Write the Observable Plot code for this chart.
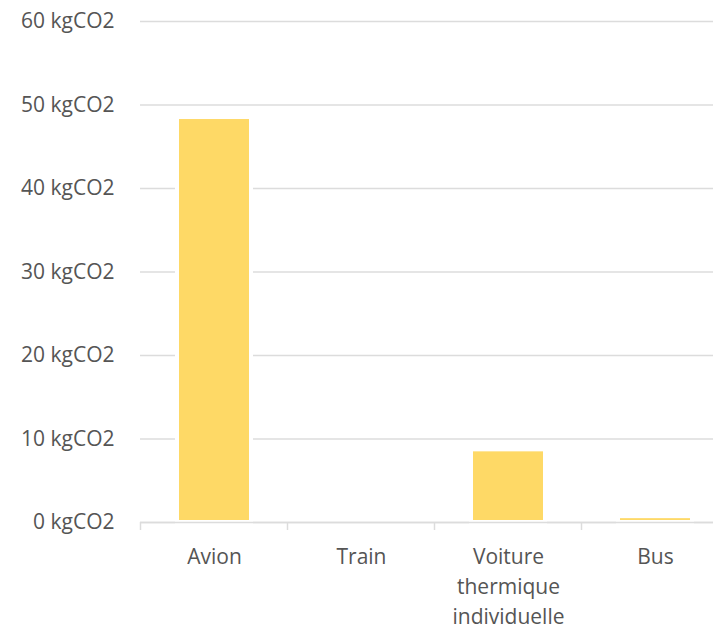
<!DOCTYPE html>
<html>
<head>
<meta charset="utf-8">
<script src="https://cdn.jsdelivr.net/npm/d3@7"></script>
<script src="https://cdn.jsdelivr.net/npm/@observablehq/plot@0.6"></script>
<style>
  html, body { margin: 0; padding: 0; background: #fff; overflow: hidden; }
  #wrap { width: 713px; height: 628px; overflow: hidden; }
  #wrap svg { max-width: none !important; }
</style>
</head>
<body>
<div id="wrap"></div>
<script>
// Data
const categories = ["Avion", "Train", "Voiture", "Bus"];
const categoryLabels = ["Avion", "Train", "Voiture\nthermique\nindividuelle", "Bus"];
const emissions = [48.5, 0, 8.7, 0.7];
const yTicks = [0, 10, 20, 30, 40, 50, 60];

const data = categories.map((c, i) => ({category: c, value: emissions[i]}));
const labelMap = new Map(categories.map((c, i) => [c, categoryLabels[i]]));

const gridColor = "#dcdcdc";
const textColor = "#555555";

// Boundary ticks between the category bands (drawn through the x scale)
function bandBoundaryTicks(index, scales) {
  const x = scales.x;
  const y0 = scales.y(0);
  const bw = x.bandwidth();
  const step = x(categories[1]) - x(categories[0]);
  const g = d3.create("svg:g").attr("stroke", gridColor).attr("stroke-width", 1.5);
  categories.forEach(c => {
    const px = x(c) - (step - bw) / 2;
    g.append("line").attr("x1", px).attr("x2", px).attr("y1", y0).attr("y2", y0 + 8);
  });
  return g.node();
}

const chart = Plot.plot({
  width: 728,
  height: 628,
  marginLeft: 140,
  marginRight: 0,
  marginTop: 21,
  marginBottom: 106,
  style: {fontFamily: "'Open Sans', sans-serif", fontSize: "21px", color: textColor, background: "#fff", maxWidth: "none"},
  x: {domain: categories, paddingInner: 0.5, paddingOuter: 0.25, axis: null},
  y: {domain: [0, 60], axis: null},
  marks: [
    Plot.gridY(yTicks, {stroke: gridColor, strokeOpacity: 1, strokeWidth: 1.5}),
    Plot.axisY(yTicks, {
      tickSize: 0, tickPadding: 26, fontSize: 21, fill: textColor,
      tickFormat: d => `${d} kgCO2`, label: null
    }),
    Plot.barY(data, {x: "category", y: "value", fill: "#FED966", stroke: "#ffffff", strokeWidth: 4}),
    Plot.ruleY([0], {stroke: gridColor, strokeWidth: 1.5}),
    bandBoundaryTicks,
    Plot.axisX(categories, {
      tickSize: 0, tickPadding: 20, fontSize: 21, fill: textColor, lineHeight: 1.43,
      tickFormat: d => labelMap.get(d), label: null
    })
  ]
});
document.getElementById("wrap").appendChild(chart);
</script>
</body>
</html>
